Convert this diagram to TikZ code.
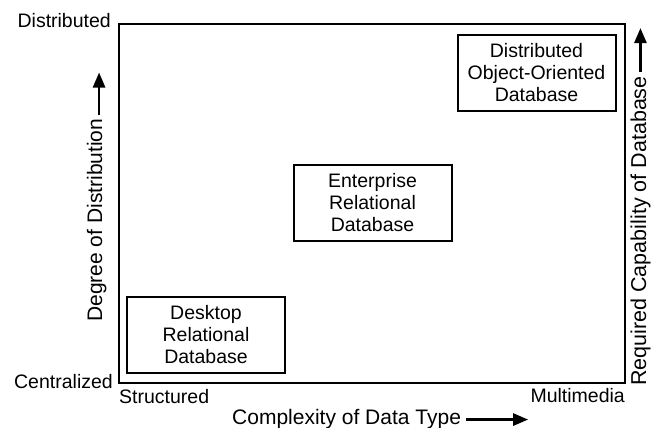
\documentclass[tikz,border=0pt]{standalone}
\usepackage{fontspec}
\setmainfont{Liberation Sans}
\usetikzlibrary{arrows.meta,positioning,calc}

\begin{document}
\begin{tikzpicture}[x=1pt,y=-1pt,
  lab/.style={font=\fontsize{19.5}{22}\selectfont,inner sep=0pt},
  ttl/.style={font=\fontsize{#1}{24}\selectfont,inner sep=0pt},
  ttl/.default=21,
  db/.style={draw,line width=2pt,align=center,inner sep=2pt,
    minimum width=158pt,minimum height=76pt,font=\fontsize{19.5}{22}\selectfont},
  arr/.style={-{Triangle[length=15pt,width=12pt]},line width=2.6pt}]
\useasboundingbox (0,0) rectangle (651,428);
% plot frame
\node[draw,line width=2pt,inner sep=0pt,outer sep=0pt,minimum width=506pt,
  minimum height=358.5pt,anchor=north west] (frame) at (119,24) {};
% axis ends
\node[lab,anchor=base east] (yhi) at ($(frame.north west)+(-8,4)$) {Distributed};
\node[lab,anchor=base east] (ylo) at ($(frame.south west)+(-6,6)$) {Centralized};
\node[lab,anchor=base west] (xlo) at ($(frame.south west)+(0,21)$) {Structured};
\node[lab,anchor=base east] (xhi) at ($(frame.south east)+(0,20)$) {Multimedia};
% databases
\node[db] (desk) at (206,334.5) {Desktop\\Relational\\Database};
\node[db] (ent) at (372.5,202.5) {Enterprise\\Relational\\Database};
\node[db] (dist) at (536.5,73) {Distributed\\Object-Oriented\\Database};
% axis titles
\node[ttl,anchor=base west] (xttl) at (232,424.5) {Complexity of Data Type};
\coordinate (xtip) at ($(xttl.east)+(67,0.5)$);
\draw[arr] ($(xttl.east)+(5,0.5)$) -- (xtip);
\node[ttl,rotate=90,anchor=base west] (yttl) at (102,322) {Degree of Distribution};
\coordinate (ytip) at ($(yttl.east)+(2.5,-46)$);
\draw[arr] ($(yttl.east)+(2.5,-4)$) -- (ytip);
\node[ttl=21.5,rotate=90,anchor=base west] (cttl) at (646,386)
  {Required Capability of Database};
\coordinate (ctip) at ($(cttl.east)+(0,-48)$);
\draw[arr] ($(cttl.east)+(0,-4)$) -- (ctip);
\end{tikzpicture}
\end{document}
